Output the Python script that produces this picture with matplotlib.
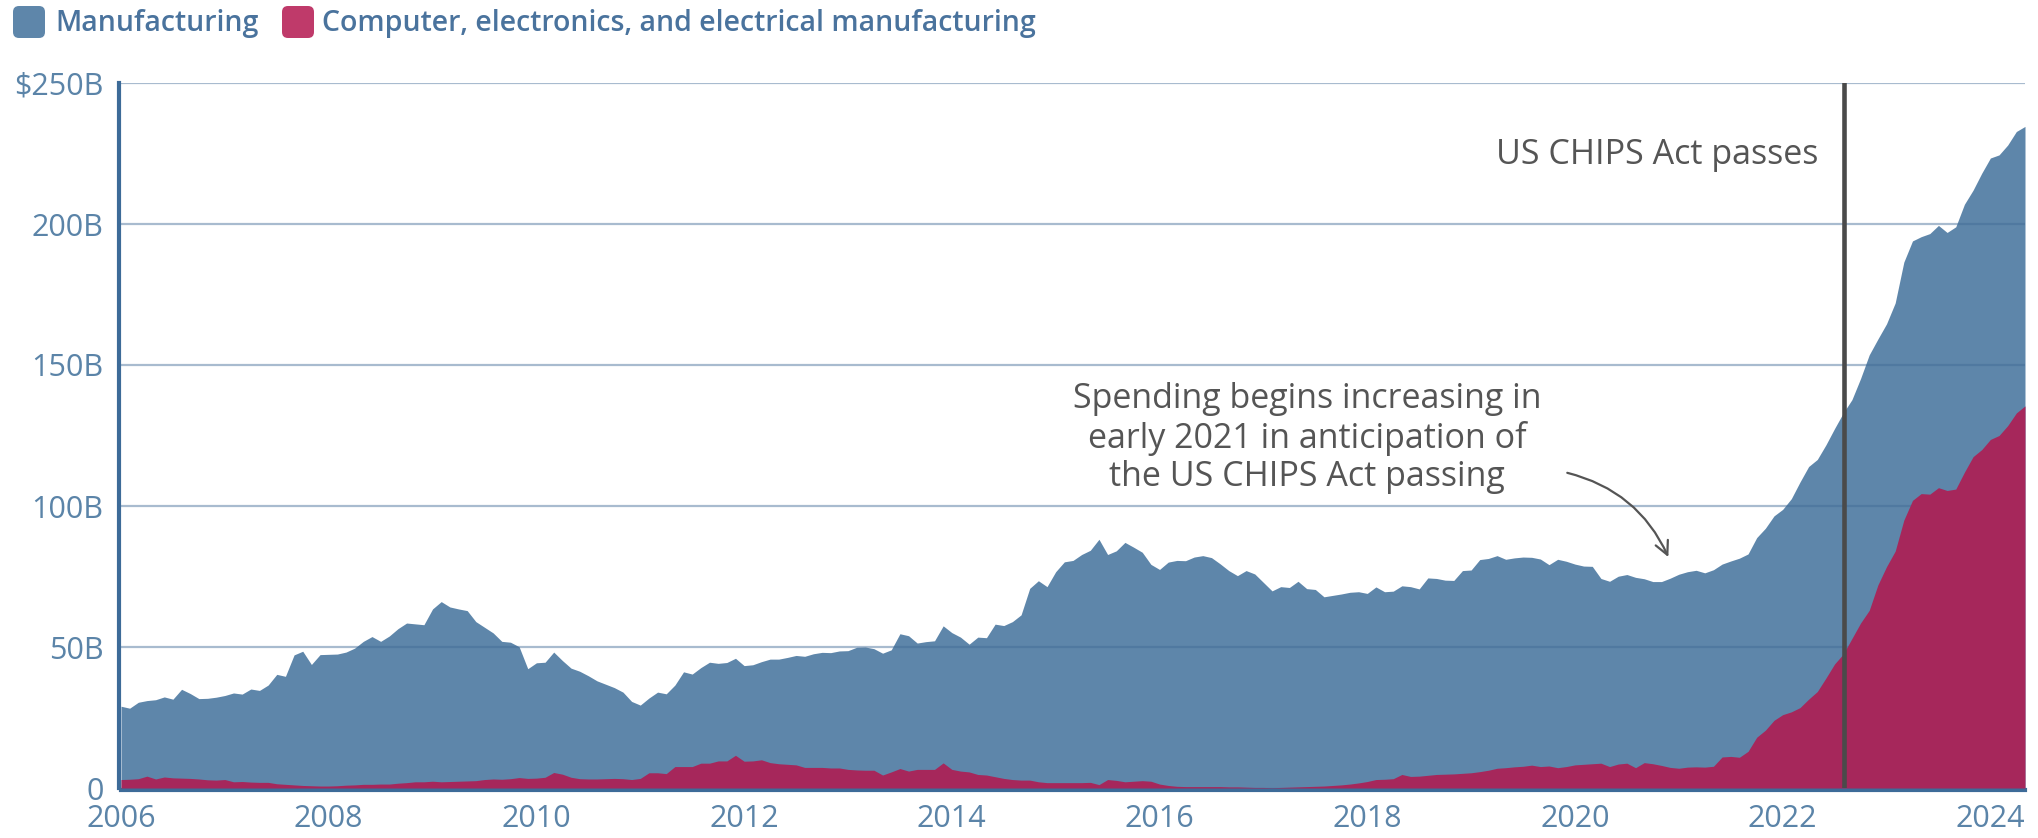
import numpy as np
import matplotlib.pyplot as plt
from matplotlib.patches import FancyBboxPatch
from matplotlib.transforms import IdentityTransform

plt.rcParams['font.family'] = ['Open Sans', 'DejaVu Sans']

# Monthly construction spending, Jan 2006 - May 2024 (billions USD)
start_year = 2006

manufacturing = [
    29, 28.3, 30.4, 31, 31.3, 32.3, 31.5, 35, 33.5, 31.7,
    31.8, 32.2, 32.8, 33.7, 33.3, 35.1, 34.6, 36.5, 40.3, 39.6,
    47.2, 48.5, 43.8, 47.3, 47.4, 47.5, 48.2, 49.6, 52, 53.7,
    52, 53.9, 56.5, 58.5, 58.2, 57.9, 63.5, 66.1, 64.2, 63.5,
    62.9, 59, 57, 55, 52, 51.7, 50.1, 42.3, 44.4, 44.6,
    48.2, 45.2, 42.5, 41.4, 39.8, 38, 36.8, 35.6, 34, 30.7,
    29.4, 31.9, 34, 33.4, 36.5, 41.2, 40.4, 42.7, 44.6, 44.2,
    44.5, 46, 43.4, 43.7, 44.8, 45.7, 45.7, 46.3, 47, 46.7,
    47.6, 48.1, 48, 48.6, 48.7, 49.9, 50, 49.4, 47.8, 49,
    54.7, 54, 51.4, 51.9, 52.2, 57.5, 55.1, 53.5, 51, 53.5,
    53.3, 58.1, 57.6, 59, 61.4, 70.8, 73.5, 71.4, 76.7, 80.2,
    80.7, 82.8, 84.3, 88.2, 82.8, 84.1, 87.1, 85.4,
    83.6, 79.3, 77.5, 80.1, 80.7, 80.6, 81.9, 82.4, 81.7, 79.5,
    77.1, 75.3, 77.1, 75.9, 72.9, 69.9, 71.4, 71.1, 73.3, 70.7,
    70.4, 67.8, 68.3, 68.8, 69.4, 69.6, 69, 71.3, 69.6, 69.8,
    71.7, 71.4, 70.6, 74.5, 74.3, 73.7, 73.6, 77.1, 77.3, 81,
    81.4, 82.4, 81.1, 81.6, 81.9, 81.8, 81.2, 79.2, 81.1, 80.4,
    79.4, 78.7, 78.6, 74.3, 73.3, 75.1, 75.7, 74.7,
    74.2, 73.2, 73.2, 74.4, 75.8, 76.7, 77.2, 76.3, 77.4, 79.4,
    80.5, 81.5, 83, 88.8, 92.1, 96.5, 98.8, 102.6, 108.5, 114,
    116.5, 121.7, 127.5, 133, 137.7, 145.2, 153.6, 159.2, 164.6, 172,
    186.5, 194, 195.5, 196.6, 199.5, 197, 199, 207, 212, 218,
    223.4, 224.5, 228, 232.8, 234.6,
]

computer_electrical = [
    3.0, 3.1, 3.3, 4.2, 3.2, 3.9, 3.6, 3.5, 3.4, 3.2,
    2.9, 2.8, 3.0, 2.2, 2.3, 2.1, 2.0, 2.0, 1.5, 1.3,
    1.1, 0.9, 0.8, 0.7, 0.7, 0.8, 1.0, 1.1, 1.3, 1.3,
    1.4, 1.4, 1.7, 1.9, 2.2, 2.2, 2.4, 2.2, 2.3, 2.4,
    2.5, 2.6, 3.0, 3.2, 3.1, 3.3, 3.7, 3.4, 3.5, 3.8,
    5.5, 4.9, 3.8, 3.3, 3.2, 3.2, 3.3, 3.4, 3.3, 3.0,
    3.4, 5.4, 5.4, 5.1, 7.6, 7.6, 7.6, 8.8, 8.8, 9.6,
    9.6, 11.6, 9.5, 9.6, 10, 9, 8.6, 8.4, 8.2, 7.3,
    7.3, 7.3, 7.1, 7.1, 6.6, 6.4, 6.3, 6.3, 4.6, 5.7,
    6.9, 6, 6.6, 6.6, 6.6, 8.9, 6.6, 6, 5.7, 4.8,
    4.6, 4, 3.4, 3, 2.8, 2.8, 2.2, 1.9, 1.9, 1.9,
    1.9, 1.9, 2, 1.2, 3, 2.7, 2.2, 2.4,
    2.6, 2.4, 1.4, 0.9, 0.6, 0.5, 0.5, 0.5, 0.5, 0.5,
    0.4, 0.4, 0.3, 0.2, 0.2, 0.1, 0.2, 0.3, 0.4, 0.5,
    0.6, 0.7, 0.9, 1.1, 1.4, 1.8, 2.3, 3.0, 3.1, 3.3,
    4.8, 4.1, 4.2, 4.5, 4.8, 4.9, 5.0, 5.2, 5.4, 5.8,
    6.3, 7.0, 7.2, 7.5, 7.7, 8.1, 7.6, 7.8, 7.2, 7.6,
    8.2, 8.4, 8.6, 8.8, 7.6, 8.5, 8.8, 7.2,
    9.0, 8.6, 8.0, 7.3, 7.0, 7.4, 7.5, 7.4, 7.7, 11,
    11.2, 10.9, 13, 18, 20.5, 24, 26, 27, 28.5, 31.5,
    34.2, 39, 44, 47.5, 53, 58.5, 63, 72, 78.5, 84,
    95, 102, 104.4, 104.2, 106.5, 105.5, 106, 112, 117.5, 120,
    123.6, 125, 128.5, 133, 135.5,
]

series_names = ['Manufacturing',
                'Computer, electronics, and electrical manufacturing']
y_ticks = [0, 50, 100, 150, 200, 250]
y_tick_labels = ['0', '50B', '100B', '150B', '200B', '$250B']
x_ticks = [2006, 2008, 2010, 2012, 2014, 2016, 2018, 2020, 2022, 2024]
chips_act_date = 2022 + 7.1 / 12

blue = '#5e86aa'
red = '#a6275b'
tick_color = '#5b84a8'
spine_color = '#3d6b98'
note_color = '#555555'

x = start_year + np.arange(len(manufacturing)) / 12

fig = plt.figure(figsize=(20.38, 8.38), dpi=100)
ax = fig.add_axes([121 / 2038, 50 / 838, 1904 / 2038, 705 / 838])

ax.fill_between(x, 0, manufacturing, color=blue, lw=0, zorder=1)
for v in y_ticks[1:]:
    ax.axhline(v, color='#3f6a96', alpha=0.45, lw=1.6, zorder=2)
ax.fill_between(x, 0, computer_electrical, color=red, lw=0, zorder=3)

ax.axvline(chips_act_date, color='#4a4a4a', lw=3.3, zorder=4)

ax.set_xlim(x[0], x[-1])
ax.set_ylim(0, 250)
ax.set_yticks(y_ticks)
ax.set_yticklabels(y_tick_labels)
ax.set_xticks(x_ticks)
ax.set_xticklabels([str(t) for t in x_ticks])
ax.tick_params(axis='both', length=0, labelsize=22, labelcolor=tick_color)
ax.tick_params(axis='y', pad=11)
ax.tick_params(axis='x', pad=10)

for side in ['top', 'right']:
    ax.spines[side].set_visible(False)
for side in ['left', 'bottom']:
    ax.spines[side].set_color(spine_color)
    ax.spines[side].set_linewidth(3)
    ax.spines[side].set_position(('outward', 1.5))

ax.text(2022.34, 224.5, 'US CHIPS Act passes', ha='right', va='center',
        fontsize=24.5, color=note_color)
ax.text(2017.42, 124, 'Spending begins increasing in\nearly 2021 in anticipation of\nthe US CHIPS Act passing',
        ha='center', va='center', multialignment='center', fontsize=24.5,
        color=note_color, linespacing=1.17)
ax.annotate('', xy=(2020.91, 81), xytext=(2019.9, 112),
            arrowprops=dict(arrowstyle='->', color=note_color, lw=1.6,
                            mutation_scale=24,
                            connectionstyle='arc3,rad=-0.25'))

# legend: rounded swatches with labels above the plot
swatches = [(13, 55, '#5e86aa'), (282, 322, '#bf3a6a')]
for (sx, tx, c), name in zip(swatches, series_names):
    fig.patches.append(FancyBboxPatch((sx, 800), 32, 32,
                                      boxstyle='round,pad=0,rounding_size=6',
                                      fc=c, ec='none',
                                      transform=IdentityTransform(),
                                      figure=fig))
    fig.text(tx / 2038, 815 / 838, name, ha='left', va='center',
             fontsize=20.5, fontweight='semibold', color='#4a739d')

fig.savefig('out.png', dpi=100)
